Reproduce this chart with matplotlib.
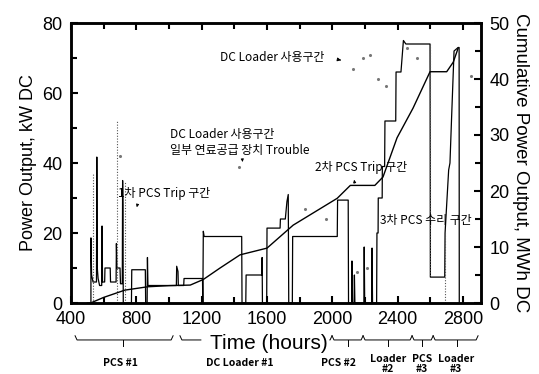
import numpy as np
import matplotlib
matplotlib.use("Agg")
import matplotlib.pyplot as plt
from matplotlib.ticker import MultipleLocator
import matplotlib.transforms as mtransforms

plt.rcParams['font.family'] = ['Liberation Sans', 'DejaVu Sans']
KR = ['Noto Sans CJK KR', 'DejaVu Sans']

# ---------------- data ----------------
# Power output (kW DC), step-like trace
power_hours = [500, 522, 522, 526, 535, 556, 558, 561, 566, 575, 588, 590, 593, 606, 608, 640, 642,
               676, 678, 681, 700, 703, 714, 716, 718, 720, 770, 772, 855, 857, 866, 868, 871,
               1045, 1047, 1055, 1057, 1090, 1092, 1205, 1207, 1210, 1215, 1445, 1447, 1470, 1472,
               1568, 1570, 1572, 1598, 1600, 1680, 1682, 1712, 1722, 1730, 1733, 1755, 1757,
               2030, 2032, 2097, 2099, 2118, 2120, 2123, 2133, 2135, 2138, 2193, 2195, 2198,
               2241, 2243, 2246, 2271, 2273, 2280, 2281, 2305, 2306, 2320, 2322, 2388, 2390,
               2420, 2435, 2450, 2598, 2600, 2688, 2690, 2712, 2720, 2730, 2745, 2770, 2776, 2777]
power_kw = [0, 0, 18.6, 8, 6, 6, 41.7, 10, 7, 5, 5, 22, 6, 6, 10, 10, 6,
            6, 17, 10, 10, 5.5, 5.5, 35, 28, 0, 0, 9.5, 9.5, 0, 0, 13, 5,
            5, 10.5, 9, 5, 5, 7, 7, 0, 20.5, 19, 19, 0, 0, 8,
            8, 13, 0, 0, 21.4, 21.4, 24, 24, 29, 31, 0, 0, 19,
            19, 29.4, 29.4, 0, 0, 12, 0, 0, 8, 0, 0, 16, 0,
            0, 15.7, 0, 0, 20, 20, 30, 30, 39, 39, 52, 52, 66,
            66, 75, 74, 74, 7.4, 7.4, 20, 38, 40, 53, 72, 73, 73, 0]

# faint dotted traces
dot_hours = [535, 535, np.nan, 681, 681, np.nan, 730, 730, np.nan, 2600, 2600, np.nan, 2690, 2690]
dot_kw = [0, 37, np.nan, 0, 52, np.nan, 0, 35, np.nan, 74, 7.4, np.nan, 0, 20]

# stray scan dots
speck_hours = [2127, 2188, 2231, 2280, 2330, 2460, 2520, 2850, 1430, 1830, 1960, 2150, 2210, 700]
speck_kw = [67, 70, 71, 64, 62, 73, 70, 65, 39, 27, 24, 9, 10, 42]

# Cumulative power output (MWh DC)
cum_hours = [520, 600, 730, 870, 1000, 1130, 1210, 1310, 1435, 1600, 1760, 2030, 2110, 2260,
             2310, 2396, 2494, 2598, 2700, 2740, 2770]
cum_mwh = [0, 1.0, 2.3, 2.9, 3.1, 3.2, 4.2, 6.2, 8.6, 9.8, 13.9, 18.7, 21, 21,
           22.5, 29.5, 34.8, 41.3, 41.3, 43, 45.5]

xticks = [400, 800, 1200, 1600, 2000, 2400, 2800]

# period brackets below axis
bracket_start = [425, 1067, 1998, 2188, 2488, 2617]
bracket_end = [1025, 1998, 2188, 2488, 2617, 2892]
bracket_mid = [718, None, 2096, 2341, 2550, 2764]
bracket_labels = ['PCS #1', 'DC Loader #1', 'PCS #2', 'Loader\n#2', 'PCS\n#3', 'Loader\n#3']
label_x = [705, 1435, 2035, 2341, 2550, 2755]
# part of the DC Loader bracket hidden behind the axis title
title_gap = (1195, 1985)

# ---------------- figure ----------------
fig = plt.figure(figsize=(5.39, 3.74), dpi=100)
ax = fig.add_axes([71/539, 71/374, 410/539, 280/374])
ax2 = ax.twinx()

ax.plot(power_hours, power_kw, color='black', lw=0.9)
ax.plot(dot_hours, dot_kw, color='#555555', lw=0.8, ls=(0, (1, 1.5)))
ax.scatter(speck_hours, speck_kw, s=1.5, color='#777777', zorder=3)
ax2.plot(cum_hours, cum_mwh, color='black', lw=1.0)

ax.set_xlim(400, 2910)
ax.set_ylim(0, 80)
ax2.set_ylim(0, 50)

ax.set_xticks(xticks)
ax.xaxis.set_minor_locator(MultipleLocator(200))
ax.yaxis.set_major_locator(MultipleLocator(20))
ax.yaxis.set_minor_locator(MultipleLocator(10))
ax2.yaxis.set_major_locator(MultipleLocator(10))
ax2.yaxis.set_minor_locator(MultipleLocator(5))

ax.tick_params(axis='both', which='both', direction='in', top=True, right=False,
               labelsize=13, width=1.5)
ax.tick_params(which='major', length=5)
ax.tick_params(which='minor', length=4)
ax.tick_params(axis='y', pad=6)
ax.tick_params(axis='x', pad=6)
ax2.tick_params(axis='y', which='both', direction='in', labelsize=13, width=1.5, pad=6)
ax2.tick_params(which='major', length=5)
ax2.tick_params(which='minor', length=4)

for a in (ax, ax2):
    for s in a.spines.values():
        s.set_linewidth(1.8)

ax.set_ylabel('Power Output, kW DC', fontsize=13, labelpad=4)
ax2.set_ylabel('Cumulative Power Output, MWh DC', fontsize=13.5, rotation=-90, labelpad=14)
ax.set_xlabel('Time (hours)', fontsize=15)
ax.xaxis.set_label_coords(0.483, -0.112)

# annotations
fs_kr = 8.6
ax.text(1312, 70, 'DC Loader 사용구간', family=KR, fontsize=fs_kr, va='center', ha='left',
        fontweight='medium')
ax.annotate('', xy=(2070, 69.2), xytext=(2030, 69.6),
            arrowprops=dict(arrowstyle='-|>', color='black', lw=0.7, mutation_scale=5))
ax.text(1006, 48.2, 'DC Loader 사용구간', family=KR, fontsize=fs_kr, va='center', ha='left',
        fontweight='medium')
ax.text(1006, 43.6, '일부 연료공급 장치 Trouble', family=KR, fontsize=fs_kr, va='center', ha='left',
        fontweight='medium')
ax.annotate('', xy=(1452, 39.5), xytext=(1448, 41.5),
            arrowprops=dict(arrowstyle='-|>', color='black', lw=0.6, mutation_scale=4))
ax.text(688, 31.4, '1차 PCS Trip 구간', family=KR, fontsize=fs_kr, va='center', ha='left',
        fontweight='medium')
ax.annotate('', xy=(798, 26.6), xytext=(810, 28.6),
            arrowprops=dict(arrowstyle='-|>', color='black', lw=0.6, mutation_scale=4))
ax.text(1894, 38.6, '2차 PCS Trip 구간', family=KR, fontsize=fs_kr, va='center', ha='left',
        fontweight='medium')
ax.annotate('', xy=(2130, 36), xytext=(2140, 33.5),
            arrowprops=dict(arrowstyle='-|>', color='black', lw=0.6, mutation_scale=4))
ax.text(2292, 23.7, '3차 PCS 수리 구간', family=KR, fontsize=fs_kr, va='center', ha='left',
        fontweight='medium')

# brackets under the x axis
trans = mtransforms.blended_transform_factory(ax.transData, ax.transAxes)
yb = -0.132
kw = dict(color='black', lw=0.7, transform=trans, clip_on=False)
for s, e, m in zip(bracket_start, bracket_end, bracket_mid):
    if m is None:
        ax.plot([s, s + 12, title_gap[0]], [yb + 0.015, yb, yb], **kw)
        ax.plot([title_gap[1], e - 12, e], [yb, yb, yb + 0.015], **kw)
    else:
        ax.plot([s, s + 12, e - 12, e], [yb + 0.015, yb, yb, yb + 0.015], **kw)
        ax.plot([m, m], [yb, yb - 0.02], **kw)
for lx, lab in zip(label_x, bracket_labels):
    two = '\n' in lab
    ax.text(lx, -0.182 if two else -0.198, lab, family=KR, fontsize=7.5, ha='center', va='top',
            linespacing=0.95, transform=trans, fontweight='bold')

fig.savefig('out.png', dpi=100)
